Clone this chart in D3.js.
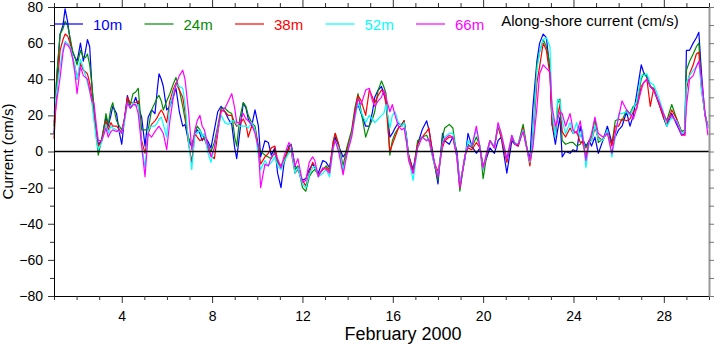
<!DOCTYPE html>
<html><head><meta charset="utf-8">
<script src="https://cdn.jsdelivr.net/npm/d3@7"></script>
<style>body{margin:0;background:#fff}svg{display:block;font-family:"Liberation Sans",Arial,sans-serif}</style>
</head><body><svg id="c" width="716" height="345"></svg>
<script>
const days=[1.00,1.12,1.27,1.40,1.49,1.60,1.71,1.82,1.93,2.02,2.10,2.17,2.30,2.40,2.48,2.58,2.67,2.77,2.88,2.96,3.11,3.22,3.30,3.40,3.52,3.60,3.77,3.90,4.00,4.12,4.25,4.38,4.50,4.62,4.73,4.88,5.03,5.17,5.32,5.47,5.58,5.65,5.75,5.84,5.99,6.13,6.27,6.40,6.55,6.70,6.80,6.95,7.10,7.24,7.34,7.46,7.56,7.66,7.80,7.95,8.10,8.25,8.40,8.57,8.72,8.87,9.00,9.09,9.22,9.38,9.50,9.60,9.75,9.90,10.05,10.15,10.34,10.49,10.62,10.78,10.90,11.05,11.20,11.40,11.50,11.67,11.80,12.00,12.15,12.30,12.45,12.55,12.70,12.90,13.05,13.20,13.35,13.45,13.60,13.80,13.96,14.18,14.32,14.46,14.60,14.80,14.96,15.10,15.20,15.35,15.50,15.60,15.70,15.87,15.98,16.10,16.25,16.40,16.50,16.60,16.70,16.90,17.10,17.30,17.50,17.60,17.80,18.00,18.20,18.30,18.50,18.66,18.84,18.97,19.20,19.33,19.50,19.70,19.86,20.00,20.17,20.30,20.50,20.66,20.80,21.05,21.27,21.40,21.55,21.77,21.93,22.07,22.20,22.38,22.50,22.66,22.80,22.96,23.05,23.20,23.30,23.40,23.50,23.65,23.85,23.98,24.14,24.30,24.40,24.55,24.70,24.80,24.95,25.10,25.30,25.50,25.70,25.85,26.00,26.15,26.35,26.50,26.65,26.80,27.00,27.10,27.25,27.40,27.55,27.77,27.98,28.13,28.35,28.57,28.79,28.93,29.00,29.14,29.30,29.44,29.55,29.67,29.82,29.95];
const v10=[10,40,65,70,79,72,62,55,52,50,55,60,50,56,62,58,38,22,10,4,6,14,19,14,20,25,21,10,4,18,31,24,26,30,25,19,3,19,23,21,35,43,40,36,23,25,30,35,22,14,15,6,3,10,12,10,6,8,6,2,12,22,25,22,18,15,2,-4,10,27,24,18,14,23,14,-3,6,5,-2,2,-12,-20,-5,3,4,-8,-10,-16,-15,-10,-7,-9,-12,-5,-6,-9,2,8,3,-3,0,10,22,26,21,14,14,22,30,34,36,32,28,8,10,13,16,14,17,9,-2,-10,4,12,17,12,-3,-18,10,6,4,8,0,-18,-4,10,3,-1,2,-8,-3,2,-1,6,8,-12,6,4,3,12,2,-4,24,50,60,65,63,45,15,4,12,19,-3,0,-1,1,0,14,7,3,6,3,8,-1,6,14,5,8,12,14,22,14,20,32,48,44,41,36,34,27,19,14,21,15,9,10,56,56,60,63,66,43,20,14];
const v24=[14,42,65,68,72,70,63,56,52,48,52,56,52,52,54,48,38,23,8,-2,7,14,21,15,24,27,17,14,12,18,28,26,32,33,35,12,12,12,23,27,30,31,28,23,28,32,37,41,34,25,18,8,3,10,14,12,9,8,4,0,5,14,24,24,22,21,8,3,18,27,25,20,16,14,3,0,-2,-3,-4,0,-6,-9,-6,2,4,-10,-8,-20,-22,-14,-11,-10,-13,-10,-8,-10,4,10,4,-8,2,12,24,32,22,8,14,18,22,34,39,36,32,-2,6,10,13,15,17,8,-2,-12,6,8,9,6,-5,-16,8,13,15,13,-3,-22,-2,4,2,8,3,-15,-1,6,3,14,8,-5,8,4,4,15,3,-6,8,48,55,62,58,48,20,9,27,29,6,4,5,5,3,4,6,2,6,8,18,5,7,10,4,17,18,17,23,21,25,26,40,43,42,36,35,27,21,17,26,18,11,12,45,50,54,58,60,36,21,14];
const v38=[7,33,56,62,65,64,60,52,47,40,44,49,45,44,43,38,30,19,8,3,6,12,17,12,16,14,14,12,10,18,30,27,27,27,28,6,-1,10,15,17,19,21,23,21,16,28,34,38,34,30,22,5,-6,10,8,6,7,7,2,-2,-4,10,23,22,20,20,16,14,15,18,15,8,14,12,2,-7,-3,-1,2,3,-5,-8,-4,2,0,-12,-10,-16,-19,-12,-6,-8,-13,-10,-9,-11,5,10,4,-11,0,10,22,31,28,20,34,30,27,31,34,33,26,0,4,8,13,15,17,6,-2,-12,4,8,11,13,-5,-11,2,6,8,8,-3,-20,-2,2,1,5,2,-10,-1,6,2,14,8,-6,8,5,3,13,2,-8,4,38,47,60,56,42,15,8,20,26,11,8,13,10,11,5,5,-3,6,6,13,8,6,12,3,14,14,18,17,18,22,24,36,38,40,25,35,27,19,15,23,18,10,9,34,43,48,54,55,34,21,13];
const v52=[21,34,47,57,61,60,58,53,47,40,46,51,46,42,38,33,28,17,6,1,5,10,15,10,14,13,12,11,10,16,27,24,27,25,26,4,-9,12,14,14,16,18,19,15,8,25,32,37,36,35,27,6,-10,10,10,12,8,10,0,-6,2,12,20,16,15,17,17,15,14,14,14,13,16,12,-3,-10,-5,-8,-6,-3,-8,-10,-5,-1,2,-12,-9,-18,-20,-13,-9,-8,-14,-12,-10,-14,0,6,2,-10,-2,9,18,27,22,16,20,18,16,18,20,21,26,13,20,22,16,14,16,8,-4,-16,2,8,6,7,-5,-13,4,8,10,10,-3,-18,-3,6,3,12,3,-10,0,6,3,15,10,-4,9,5,4,12,2,-6,6,45,55,62,63,58,22,8,29,28,17,10,16,10,16,8,12,-9,5,6,14,7,6,12,-3,8,21,21,22,20,24,28,42,42,43,38,37,30,22,14,19,17,10,11,38,42,45,47,50,34,21,13];
const v66=[16,28,41,55,60,59,57,52,43,32,40,47,42,41,40,34,28,27,14,6,6,10,13,8,11,12,11,12,10,18,27,24,26,26,21,3,-14,10,8,11,13,14,12,10,1,17,29,37,42,45,40,23,1,12,17,20,14,12,4,-3,2,12,22,24,28,32,24,16,16,21,18,17,15,10,2,-20,-7,-8,-3,-1,-4,-9,-2,5,3,-8,-4,-17,-16,-6,-3,-5,-14,-9,-10,-12,2,6,0,-13,-2,8,20,29,26,34,35,28,25,28,30,34,30,22,26,20,14,12,13,6,-5,-12,2,8,6,7,-4,-14,4,7,9,8,-3,-20,-2,3,3,14,2,-9,0,6,2,16,10,-4,9,4,4,11,2,-5,2,24,43,48,46,44,25,14,18,22,21,14,21,12,10,17,9,-5,6,10,19,10,8,10,-1,10,19,28,23,21,18,24,34,38,40,36,34,28,21,17,20,16,9,9,25,40,42,47,50,40,22,9];
const seriesNames=["10m","24m","38m","52m","66m"];
const seriesColors=["#0000ff","#008c00","#ff0000","#00ffff","#ff00ff"];
const seriesValues=[v10,v24,v38,v52,v66];
const xMajorTicks=[4,8,12,16,20,24,28];
const yMajorTicks=[-80,-60,-40,-20,0,20,40,60,80];

const svg=d3.select("#c");
const L=54,R=709,T=7,B=296;
const x=d3.scaleLinear().domain([1,30]).range([L,R]);
const y=d3.scaleLinear().domain([-80,80]).range([B,T]);
const dayTicks=d3.range(1,31);
const minorY=d3.range(-80,81,10);

// series
const line=d3.line().x((d,i)=>x(days[i])).y(d=>y(d)).curve(d3.curveLinear);
seriesValues.forEach((vals,k)=>{
  svg.append("path").datum(vals).attr("d",line).attr("fill","none")
    .attr("stroke",seriesColors[k]).attr("stroke-width",1.2).attr("stroke-linejoin","round");
});
// zero line
svg.append("line").attr("x1",L).attr("x2",R).attr("y1",y(0)).attr("y2",y(0)).attr("stroke","#000").attr("stroke-width",1.5);

// axes
const gB=svg.append("g").attr("transform",`translate(0,${B})`)
  .call(d3.axisBottom(x).tickValues(xMajorTicks).tickSize(7).tickSizeOuter(0).tickPadding(8));
const gBm=svg.append("g").attr("transform",`translate(0,${B})`)
  .call(d3.axisBottom(x).tickValues(dayTicks.filter(d=>!xMajorTicks.includes(d))).tickSize(4).tickFormat("").tickSizeOuter(0));
const gT=svg.append("g").attr("transform",`translate(0,${T})`)
  .call(d3.axisTop(x).tickValues(xMajorTicks).tickSize(7).tickFormat("").tickSizeOuter(0));
const gTm=svg.append("g").attr("transform",`translate(0,${T})`)
  .call(d3.axisTop(x).tickValues(dayTicks.filter(d=>!xMajorTicks.includes(d))).tickSize(4).tickFormat("").tickSizeOuter(0));
const gL=svg.append("g").attr("transform",`translate(${L},0)`)
  .call(d3.axisLeft(y).tickValues(yMajorTicks).tickSize(6).tickSizeOuter(0).tickPadding(5));
const gLm=svg.append("g").attr("transform",`translate(${L},0)`)
  .call(d3.axisLeft(y).tickValues(minorY.filter(v=>!yMajorTicks.includes(v))).tickSize(4).tickFormat("").tickSizeOuter(0));
const gR=svg.append("g").attr("transform",`translate(${R},0)`)
  .call(d3.axisRight(y).tickValues(minorY).tickSize(5).tickFormat("").tickSizeOuter(0));
[gB,gBm,gT,gTm,gL,gLm,gR].forEach(g=>{
  g.selectAll("path.domain").attr("stroke","#000").attr("stroke-width",1);
  g.selectAll(".tick line").attr("stroke","#333");
  g.selectAll("text").attr("font-family","Liberation Sans, Arial, sans-serif").attr("font-size",14).attr("fill","#000");
});
gR.select("path.domain").attr("stroke","#999").attr("stroke-width",2);
gR.selectAll(".tick line").attr("stroke","#777");

// axis titles
svg.append("text").attr("x",403).attr("y",340).attr("text-anchor","middle").attr("font-size",18).text("February 2000");
svg.append("text").attr("transform",`translate(13,${y(0)}) rotate(-90)`).attr("text-anchor","middle").attr("font-size",15).text("Current (cm/s)");

// legend
const leg=svg.append("g");
seriesNames.forEach((n,k)=>{
  const lx=54+k*90.5;
  leg.append("line").attr("x1",lx).attr("x2",lx+29).attr("y1",24).attr("y2",24).attr("stroke",seriesColors[k]).attr("stroke-width",1.2);
  leg.append("text").attr("x",lx+39).attr("y",30).attr("font-size",15).attr("fill",seriesColors[k]).text(n);
});
svg.append("text").attr("x",590).attr("y",26).attr("text-anchor","middle").attr("font-size",15).text("Along-shore current (cm/s)");
</script></body></html>
